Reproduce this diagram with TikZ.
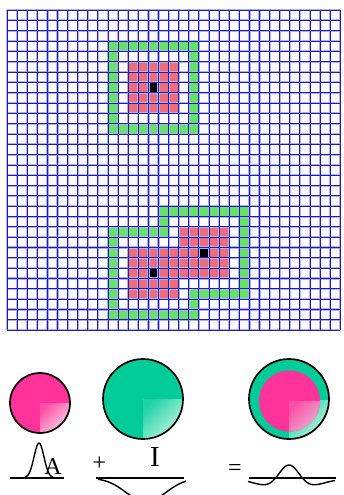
\documentclass[tikz,border=0pt]{standalone}
\usepackage{fontspec}
\setmainfont{Liberation Serif}
\definecolor{gridcore}{RGB}{30,30,175}
\definecolor{gridhalo}{RGB}{175,175,238}
\definecolor{bgc}{RGB}{250,250,255}
\definecolor{cellgreen}{RGB}{100,228,100}
\definecolor{cellpink}{RGB}{240,108,120}
\definecolor{hotpink}{RGB}{255,51,153}
\definecolor{hotpinkedge}{RGB}{255,80,165}
\definecolor{hotpinklight}{RGB}{250,215,235}
\definecolor{mint}{RGB}{0,204,153}
\definecolor{mintedge}{RGB}{30,212,165}
\definecolor{mintlight}{RGB}{200,244,228}
\definecolor{pinkgray}{RGB}{225,180,210}
\newcommand\cellat[3]{\fill[#1] ({7+10.1*(#2)},{10+10.33*(#3)}) rectangle ++(10.1,10.33);}
\begin{document}
\begin{tikzpicture}[x=1pt,y=-1pt,
  baseln/.style={line width=2.6pt},
  curveln/.style={line width=1.4pt},
  rim/.style={line width=1.7pt},
  lbl/.style={inner sep=0pt,font=\fontsize{24}{24}\selectfont}]
\useasboundingbox (0,0) rectangle (344,495);
\fill[bgc] (7,10) rectangle ({7+10.1*33},{10+10.33*31});
% upper receptive field
\foreach \c in {10,...,18}{\cellat{cellgreen}{\c}{3}\cellat{cellgreen}{\c}{11}}
\foreach \r in {4,...,10}{\cellat{cellgreen}{10}{\r}\cellat{cellgreen}{18}{\r}}
\foreach \c in {12,...,16}{\foreach \r in {5,...,9}{\cellat{cellpink}{\c}{\r}}}
\cellat{black}{14}{7}
% lower receptive fields (outline of union)
\foreach \c in {15,...,23}{\cellat{cellgreen}{\c}{19}}
\cellat{cellgreen}{15}{20}
\foreach \c in {10,...,15}{\cellat{cellgreen}{\c}{21}}
\foreach \r in {20,...,27}{\cellat{cellgreen}{23}{\r}}
\foreach \r in {22,...,29}{\cellat{cellgreen}{10}{\r}}
\foreach \c in {18,...,22}{\cellat{cellgreen}{\c}{27}}
\cellat{cellgreen}{18}{28}
\foreach \c in {11,...,18}{\cellat{cellgreen}{\c}{29}}
\foreach \c in {12,...,16}{\foreach \r in {23,...,27}{\cellat{cellpink}{\c}{\r}}}
\foreach \c in {17,...,21}{\foreach \r in {21,...,25}{\cellat{cellpink}{\c}{\r}}}
\cellat{black}{14}{25}
\cellat{black}{19}{23}
% grid lines
\foreach \i in {0,...,33}{\draw[gridhalo,line width=2.2pt] ({7+10.1*\i},10) -- ({7+10.1*\i},{10+10.33*31});}
\foreach \j in {0,...,31}{\draw[gridhalo,line width=2.2pt] (7,{10+10.33*\j}) -- ({7+10.1*33},{10+10.33*\j});}
\foreach \i in {0,...,33}{\draw[gridcore,line width=0.9pt] ({7+10.1*\i},10) -- ({7+10.1*\i},{10+10.33*31});}
\foreach \j in {0,...,31}{\draw[gridcore,line width=0.9pt] (7,{10+10.33*\j}) -- ({7+10.1*33},{10+10.33*\j});}
% circles
\node[circle,minimum size=60pt,inner sep=0pt] (ca) at (40,403) {};
\fill[hotpink] (ca.center) circle (30);
\begin{scope}\clip (ca.center) circle (30);
\shade[top color=hotpinkedge,bottom color=hotpinklight,shading angle=45] (40,403) rectangle (70,433);
\end{scope}
\draw[rim] (ca.center) circle (30);
\node[circle,minimum size=80pt,inner sep=0pt] (ci) at (143,399) {};
\fill[mint] (ci.center) circle (40);
\begin{scope}\clip (ci.center) circle (40);
\shade[top color=mintedge,bottom color=mintlight,shading angle=45] (143,399) rectangle (183,439);
\end{scope}
\draw[rim] (ci.center) circle (40);
\node[circle,minimum size=80pt,inner sep=0pt] (cs) at (289,399) {};
\fill[mint] (cs.center) circle (40);
\begin{scope}\clip (cs.center) circle (40);
\shade[top color=mintedge,bottom color=mintlight,shading angle=45] (289,400) rectangle (329,439);
\end{scope}
\fill[hotpink] (289.5,401) circle (30.5);
\begin{scope}\clip (289.5,401) circle (30.5);
\shade[top color=hotpinkedge,bottom color=pinkgray,shading angle=45] (289.5,401) rectangle (320,431.5);
\end{scope}
\draw[rim] (cs.center) circle (40);
% profiles
\coordinate (a0) at (10,478); \coordinate (a1) at (64,478);
\draw[baseln] (a0) -- (a1);
\draw[curveln,domain=-24:18,samples=60,smooth] plot ({39+\x},{478-35*exp(-(\x/7)^2)});
\node[lbl] (la) at (53,466.5) {A};
\node[lbl] (lp) at (99.5,463.5) {+};
\coordinate (b0) at (96,478); \coordinate (b1) at (184,478);
\draw[baseln] (b0) -- (b1);
\draw[curveln,domain=-48:40,samples=60,smooth] plot ({146+\x},{478+24*exp(-(\x/28)^2)});
\node[inner sep=0pt,font=\fontsize{29}{29}\selectfont] (li) at (155,457) {I};
\node[lbl] (le) at (235,470) {=};
\coordinate (c0) at (249,478); \coordinate (c1) at (336,478);
\draw[baseln] (c0) -- (c1);
\draw[curveln,domain=-41:46,samples=80,smooth] plot ({289+\x},{478-27*exp(-(\x/15)^2)+14*exp(-(\x/35)^2)});
\end{tikzpicture}
\end{document}
